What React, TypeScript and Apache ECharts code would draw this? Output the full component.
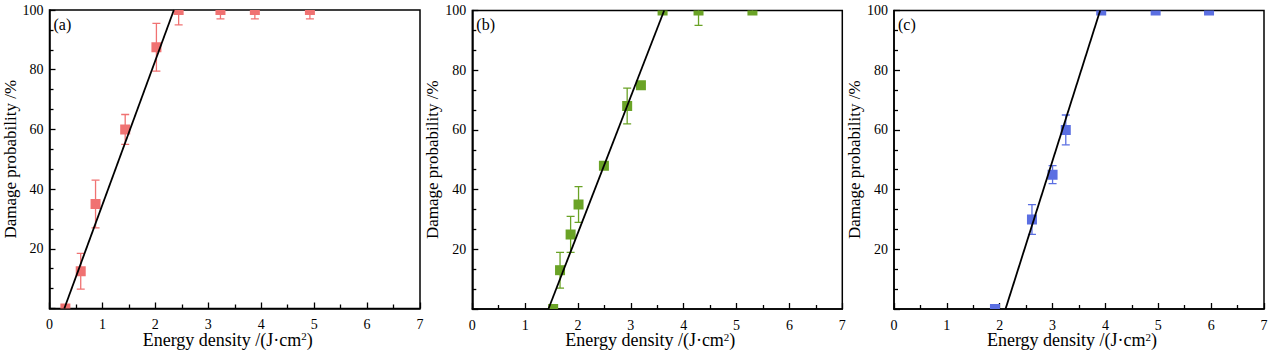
import React, { useEffect, useRef } from "react";
import * as echarts from "echarts";

// Panel (a)
const aX = [0.3, 0.59, 0.87, 1.43, 2.02, 2.44, 3.23, 3.88, 4.92];
const aY = [0, 12.5, 35, 60, 87.5, 100, 100, 100, 100];
const aLo = [0, 6.5, 27, 55, 79.5, 95, 97, 97, 97];
const aHi = [0, 18.5, 43, 65, 95.5, 105, 103, 103, 103];
const aFit = [[0.28, 0], [2.35, 100]];

// Panel (b)
const bX = [1.53, 1.66, 1.86, 2.01, 2.49, 2.93, 3.19, 3.6, 4.28, 5.3];
const bY = [0, 13, 25, 35, 48, 68, 75, 100, 100, 100];
const bLo = [0, 7, 19, 29, 48, 62, 74, 100, 95, 99];
const bHi = [0, 19, 31, 41, 48, 74, 76, 100, 105, 101];
const bFit = [[1.44, 0], [3.63, 100]];

// Panel (c)
const cX = [1.91, 2.61, 3.0, 3.25, 3.92, 4.95, 5.96];
const cY = [0, 30, 45, 60, 100, 100, 100];
const cLo = [0, 25, 42, 55, 100, 100, 100];
const cHi = [0, 35, 48, 65, 100, 100, 100];
const cFit = [[2.11, 0], [3.9, 100]];

const panelLabels = ["(a)", "(b)", "(c)"];
const colors = ["#F07272", "#6AA326", "#5B6FE2"];
const xTitle = "Energy density /(J·cm{sup|2})";
const yTitle = "Damage probability /%";

const FONT = "Liberation Serif";

const grids = [
  { left: 49.5, top: 10, width: 370.5, height: 298.5 },
  { left: 472.3, top: 10.5, width: 370, height: 298.5 },
  { left: 894, top: 10.5, width: 370, height: 298.5 },
];

export default function App() {
  const ref = useRef<HTMLDivElement>(null);
  useEffect(() => {
    if (!ref.current) return;
    const chart = echarts.init(ref.current, null, { renderer: "svg" });
    const panels = [
      { x: aX, y: aY, lo: aLo, hi: aHi, fit: aFit },
      { x: bX, y: bY, lo: bLo, hi: bHi, fit: bFit },
      { x: cX, y: cY, lo: cLo, hi: cHi, fit: cFit },
    ];
    const series: any[] = [];
    panels.forEach((p, i) => {
      const col = colors[i];
      // error bars + square markers, clipped to the plot area
      series.push({
        type: "custom",
        xAxisIndex: i,
        yAxisIndex: i,
        clip: true,
        z: 2,
        data: p.x.map((v, k) => [v, p.y[k], p.lo[k], p.hi[k]]),
        renderItem: (params: any, api: any) => {
          const x = api.value(0);
          const y = api.value(1);
          const lo = api.value(2);
          const hi = api.value(3);
          const pc = api.coord([x, y]);
          const s = 10;
          const children: any[] = [];
          if (lo !== hi) {
            const p0 = api.coord([x, lo]);
            const p1 = api.coord([x, hi]);
            const w = 4;
            const st = { stroke: col, lineWidth: 1.3 };
            children.push(
              { type: "line", shape: { x1: p0[0], y1: p0[1], x2: p1[0], y2: p1[1] }, style: st },
              { type: "line", shape: { x1: p0[0] - w, y1: p0[1], x2: p0[0] + w, y2: p0[1] }, style: st },
              { type: "line", shape: { x1: p1[0] - w, y1: p1[1], x2: p1[0] + w, y2: p1[1] }, style: st }
            );
          }
          children.push({
            type: "rect",
            shape: { x: pc[0] - s / 2, y: pc[1] - s / 2, width: s, height: s },
            style: { fill: col },
          });
          return { type: "group", children };
        },
      });
      series.push({
        type: "line",
        xAxisIndex: i,
        yAxisIndex: i,
        z: 3,
        showSymbol: false,
        symbol: "none",
        lineStyle: { color: "#000", width: 1.8 },
        data: p.fit,
      });
    });

    const xAxes = grids.map((_, i) => ({
      type: "value",
      gridIndex: i,
      min: 0,
      max: 7,
      interval: 1,
      name: xTitle,
      nameLocation: "middle",
      nameGap: 22,
      nameMoveOverlap: false,
      nameTextStyle: {
        fontFamily: FONT,
        fontSize: 18,
        lineHeight: 18,
        color: "#000",
        padding: [0, 14, 0, 0],
        rich: { sup: { fontFamily: FONT, fontSize: 11, lineHeight: 18, verticalAlign: "top", color: "#000", padding: [0, 0, 0, 0] } },
      },
      axisLine: { show: true, lineStyle: { color: "#000", width: 1.5 } },
      axisTick: { show: true, inside: true, length: 6, lineStyle: { color: "#000", width: 1.3 } },
      minorTick: { show: true, splitNumber: 2, length: 4, lineStyle: { color: "#000", width: 1.3 } },
      splitLine: { show: false },
      axisLabel: { fontFamily: FONT, fontSize: 14, color: "#000", margin: 9, showMaxLabel: true, showMinLabel: true },
    }));
    const yAxes = grids.map((_, i) => ({
      type: "value",
      gridIndex: i,
      min: 0,
      max: 100,
      interval: 20,
      name: yTitle,
      nameLocation: "middle",
      nameGap: 28,
      nameTextStyle: { fontFamily: FONT, fontSize: 17, color: "#000" },
      axisLine: { show: true, lineStyle: { color: "#000", width: 1.5 } },
      axisTick: { show: true, inside: true, length: 6, lineStyle: { color: "#000", width: 1.3 } },
      minorTick: { show: true, splitNumber: 3, length: 4, lineStyle: { color: "#000", width: 1.3 } },
      splitLine: { show: false },
      axisLabel: {
        fontFamily: FONT,
        fontSize: 14,
        color: "#000",
        margin: 6,
        formatter: (v: number) => (v === 0 ? "" : String(v)),
      },
    }));

    chart.setOption({
      animation: false,
      backgroundColor: "#fff",
      textStyle: { fontFamily: FONT },
      grid: grids.map((g) => ({
        ...g,
        containLabel: false,
        outerBoundsMode: "none",
        show: true,
        borderColor: "#000",
        borderWidth: 1.5,
        backgroundColor: "transparent",
      })),
      xAxis: xAxes,
      yAxis: yAxes,
      series,
      graphic: grids.map((g, i) => ({
        type: "text",
        left: g.left + 4,
        top: g.top + 6,
        z: 10,
        style: { text: panelLabels[i], fontFamily: FONT, fontSize: 16, fill: "#000" },
      })),
    });
    return () => chart.dispose();
  }, []);
  return (
    <div
      ref={ref}
      style={{ position: "absolute", left: 0, top: 0, width: 1269, height: 351, background: "#fff" }}
    />
  );
}
